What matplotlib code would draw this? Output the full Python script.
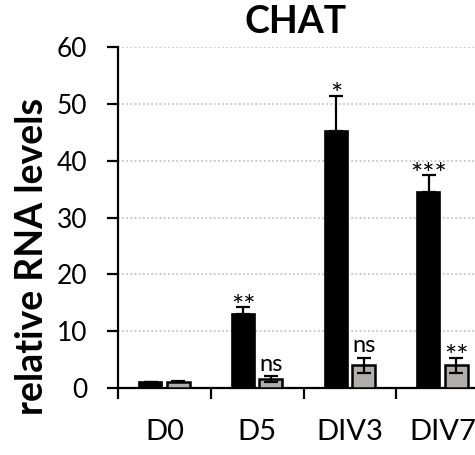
import matplotlib
matplotlib.use("Agg")
import matplotlib.pyplot as plt
import numpy as np

categories = ["D0", "D5", "DIV3", "DIV7"]
black_vals = [1.0, 13.0, 45.2, 34.5]
black_err = [0.1, 1.2, 6.2, 2.9]
gray_vals = [1.1, 1.6, 4.0, 4.0]
gray_err = [0.1, 0.5, 1.3, 1.3]
black_sig = ["", "**", "*", "***"]
gray_sig = ["", "ns", "ns", "**"]
yticks = [0, 10, 20, 30, 40, 50, 60]

plt.rcParams['font.family'] = ['Lato', 'DejaVu Sans']

W, H = 475, 455
fig = plt.figure(figsize=(W / 100, H / 100), dpi=100)
ax = fig.add_axes([118 / W, (H - 388) / H, 371 / W, 341 / H])

x = np.arange(len(categories))
bw = 0.25
off = 0.148
ekw = dict(elinewidth=1.6, capthick=1.6, ecolor='black')
ax.bar(x - off, black_vals, bw, color='black', edgecolor='black', linewidth=1.2,
       yerr=[np.zeros(len(x)), black_err], capsize=5, error_kw=ekw, zorder=3)
ax.bar(x + off, gray_vals, bw, color='#b1aeac', edgecolor='black', linewidth=1.8,
       yerr=gray_err, capsize=5, error_kw=ekw, zorder=3)


def mark(label, xpos, top):
    if not label:
        return
    if '*' in label:
        ax.annotate(label, (xpos, top), xytext=(0, -6), textcoords='offset points',
                    ha='center', va='baseline', fontsize=21)
    else:
        ax.annotate(label, (xpos, top), xytext=(0, 4), textcoords='offset points',
                    ha='center', va='baseline', fontsize=17)


for i in range(len(x)):
    mark(black_sig[i], x[i] - off, black_vals[i] + black_err[i])
    mark(gray_sig[i], x[i] + off, gray_vals[i] + gray_err[i])

ax.set_xlim(-0.5, 3.5)
ax.set_ylim(0, 60)
ax.set_yticks(yticks)
ax.set_yticklabels([str(v) for v in yticks], fontsize=19)
ax.tick_params(axis='y', direction='out', length=8, width=1.6, pad=14)
ax.set_xticks(np.arange(len(categories) + 1) - 0.5)
ax.set_xticklabels([])
ax.set_xticks(x, minor=True)
ax.set_xticklabels(categories, minor=True, fontsize=21)
ax.tick_params(axis='x', which='major', direction='out', length=8, width=1.6)
ax.tick_params(axis='x', which='minor', length=0, pad=22)

for s in ['top', 'right']:
    ax.spines[s].set_visible(False)
ax.spines['left'].set_linewidth(1.6)
ax.spines['bottom'].set_linewidth(1.6)
ax.yaxis.grid(True, linestyle=(0, (1, 1.5)), color='#bdbdbd', linewidth=1.2, zorder=0)
ax.set_axisbelow(True)

fig.text(296 / W, 1 - 22 / H, "CHAT", ha='center', va='center', fontsize=27, fontweight='bold')
fig.text(32 / W, 1 - 256 / H, "relative RNA levels", ha='center', va='center',
         rotation=90, fontsize=27, fontweight='bold')

fig.savefig("out.png", dpi=100)
